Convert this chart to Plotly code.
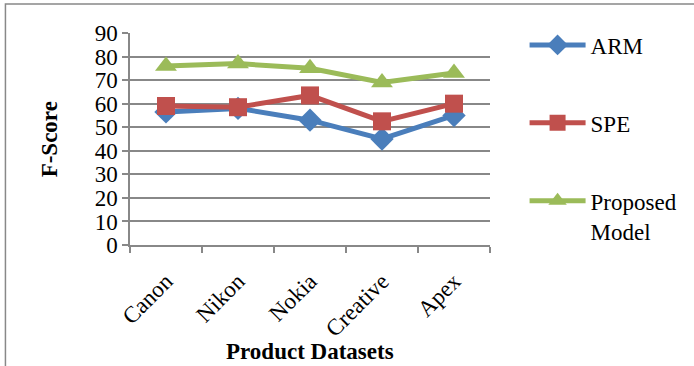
import plotly.graph_objects as go

# F-Score per product dataset for each method
datasets = ["Canon", "Nikon", "Nokia", "Creative", "Apex"]
arm_scores = [56.5, 58, 53, 45, 55]
spe_scores = [59, 58.5, 63.5, 52.5, 60]
proposed_scores = [76, 77, 75, 69, 73]

y_ticks = [0, 10, 20, 30, 40, 50, 60, 70, 80, 90]

series = [
    ("ARM", arm_scores, "#4A7EBB", "diamond", 18),
    ("SPE", spe_scores, "#C0504D", "square", 18),
    ("Proposed<br>Model", proposed_scores, "#9BBB59", "triangle-up", 19),
]

FONT = "'Liberation Serif', 'Times New Roman', serif"
GRID = "#888888"
FS = 23

fig = go.Figure()
for name, vals, color, symbol, size in series:
    fig.add_trace(go.Scatter(
        x=datasets, y=vals, name=name, legendgroup=name,
        mode="lines+markers",
        line=dict(color=color, width=5),
        marker=dict(symbol=symbol, size=size, color=color),
    ))

fig.update_layout(
    width=694, height=366,
    margin=dict(l=130, r=203, t=33, b=121),
    paper_bgcolor="white", plot_bgcolor="white",
    font=dict(family=FONT, size=FS, color="black"),
    showlegend=True,
    legend=dict(
        x=1.093, y=1.045, xanchor="left", yanchor="top",
        tracegroupgap=45, valign="top", itemwidth=56, maxheight=340,
        font=dict(family=FONT, size=FS, color="black"),
        bgcolor="rgba(0,0,0,0)",
    ),
    xaxis=dict(
        type="category", range=[-0.5, 4.5],
        tickson="boundaries", ticks="outside", ticklen=6,
        tickcolor=GRID, tickwidth=1.5,
        showline=True, linecolor=GRID, linewidth=1.5,
        showgrid=False, tickangle=-45, ticklabelstandoff=12,
        tickfont=dict(family=FONT, size=FS, color="black"),
    ),
    yaxis=dict(
        range=[0, 90], tickvals=y_ticks,
        ticks="outside", ticklen=6, tickcolor=GRID, tickwidth=1.5,
        showline=True, linecolor=GRID, linewidth=1.5,
        showgrid=True, gridcolor=GRID, gridwidth=1.5,
        zeroline=False,
        tickfont=dict(family=FONT, size=FS, color="black"),
    ),
    annotations=[
        dict(text="<b>F-Score</b>", xref="paper", yref="paper",
             x=-0.224, y=0.5, textangle=-90, showarrow=False,
             xanchor="center", yanchor="middle",
             font=dict(family=FONT, size=FS, color="black")),
        dict(text="<b>Product Datasets</b>", xref="paper", yref="paper",
             x=0.5, y=-0.50, showarrow=False,
             xanchor="center", yanchor="middle",
             font=dict(family=FONT, size=FS, color="black")),
    ],
    shapes=[
        dict(type="rect", xref="paper", yref="paper",
             x0=-0.346, y0=-0.7, x1=1.7, y1=1.137,
             line=dict(color=GRID, width=1.5), fillcolor="rgba(0,0,0,0)",
             layer="below"),
    ],
)

fig.write_html("out.html")
